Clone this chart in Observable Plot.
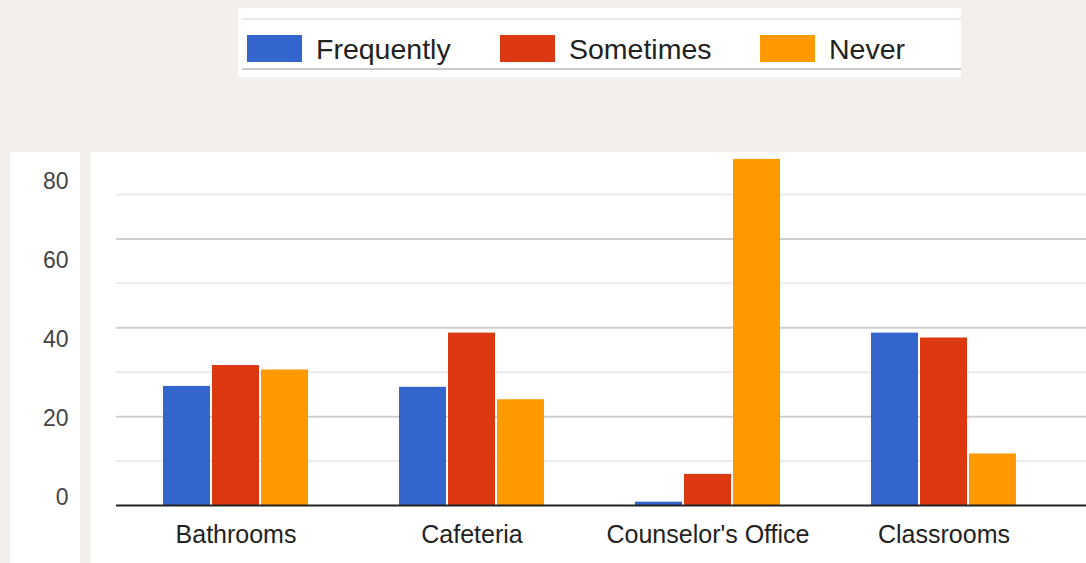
<!DOCTYPE html>
<html>
<head>
<meta charset="utf-8">
<script src="https://cdn.jsdelivr.net/npm/d3@7"></script>
<script src="https://cdn.jsdelivr.net/npm/@observablehq/plot@0.6"></script>
<style>
  html, body { margin: 0; padding: 0; }
  body { width: 1086px; height: 563px; background: #f3efec; position: relative; overflow: hidden;
         font-family: "Liberation Sans", Arial, sans-serif; }
  #legend { position: absolute; left: 238px; top: 8px; width: 723px; height: 69px; background: #fff; }
  #legend .ln { position: absolute; left: 4px; right: 0; height: 2px; }
  #legend .sw { position: absolute; top: 27px; width: 55px; height: 27px; }
  #legend .tx { position: absolute; top: 26.5px; font-size: 28.5px; line-height: 1; color: #222; white-space: nowrap; }
  #yPanel { position: absolute; left: 10px; top: 152px; width: 70px; height: 411px; background: #fff; }
  #main { position: absolute; left: 91px; top: 152px; width: 995px; height: 411px; background: #fff; }
  svg { display: block; }
</style>
</head>
<body>
<div id="legend"></div>
<div id="yPanel"></div>
<div id="main"></div>
<script>
const categories = ["Bathrooms", "Cafeteria", "Counselor's Office", "Classrooms"];
const series = ["Frequently", "Sometimes", "Never"];
const frequently = [26.8, 26.6, 0.75, 38.8];
const sometimes = [31.5, 38.8, 7.0, 37.7];
const never = [30.5, 23.8, 77.9, 11.6];
const colors = ["#3366cc", "#dc3912", "#ff9900"];
const yTickLabels = [0, 20, 40, 60, 80];
const minorGrid = [10, 30, 50, 70];
const majorGrid = [20, 40, 60];

const seriesValues = [frequently, sometimes, never];
const table = [];
series.forEach((s, i) => categories.forEach((c, j) => table.push({series: s, category: c, value: seriesValues[i][j]})));

// Legend
const legend = document.getElementById("legend");
legend.innerHTML = `<div class="ln" style="top:10px;background:#e9e9e9"></div><div class="ln" style="top:60px;background:#c9c9c9"></div>`;
const swLeft = [9, 262, 522];
series.forEach((s, i) => {
  const sw = document.createElement("div");
  sw.className = "sw"; sw.style.left = swLeft[i] + "px"; sw.style.background = colors[i];
  legend.appendChild(sw);
  const tx = document.createElement("div");
  tx.className = "tx"; tx.style.left = (swLeft[i] + 69) + "px"; tx.textContent = s;
  legend.appendChild(tx);
});

// Left label panel
const yPanel = Plot.plot({
  width: 70, height: 411,
  marginLeft: 58, marginRight: 0, marginTop: 0, marginBottom: 0,
  y: {domain: [0, 80], range: [345.5, 29]},
  style: {fontSize: "23px", color: "#444", fontFamily: "'Liberation Sans', Arial, sans-serif", background: "transparent"},
  marks: [
    Plot.axisY(yTickLabels, {tickSize: 0, tickPadding: 0, label: null})
  ]
});
document.getElementById("yPanel").appendChild(yPanel);

// Main chart
const barMarks = series.map((s, i) => Plot.barY(table.filter(d => d.series === s), {
  x: "category", y: "value", fill: "series",
  insetLeft: i * 49, insetRight: (2 - i) * 49
}));
const main = Plot.plot({
  width: 995, height: 411,
  marginLeft: 26.5, marginRight: 24.5, marginTop: 0, marginBottom: 58,
  x: {domain: categories, paddingInner: 0.386, paddingOuter: 0.193, label: null},
  y: {domain: [0, 79.45], axis: null},
  color: {domain: series, range: colors},
  style: {fontSize: "25px", color: "#222", fontFamily: "'Liberation Sans', Arial, sans-serif", background: "transparent"},
  marks: [
    Plot.ruleY(minorGrid, {stroke: "#ebebeb", strokeWidth: 2, insetLeft: -1.5, insetRight: -24.5}),
    Plot.ruleY(majorGrid, {stroke: "#cfcfcf", strokeWidth: 2, insetLeft: -1.5, insetRight: -24.5}),
    ...barMarks,
    Plot.ruleY([0], {stroke: "#222", strokeWidth: 2, insetLeft: -1.5, insetRight: -24.5}),
    Plot.axisX({tickSize: 0, tickPadding: 20, label: null})
  ]
});
document.getElementById("main").appendChild(main);
</script>
</body>
</html>
